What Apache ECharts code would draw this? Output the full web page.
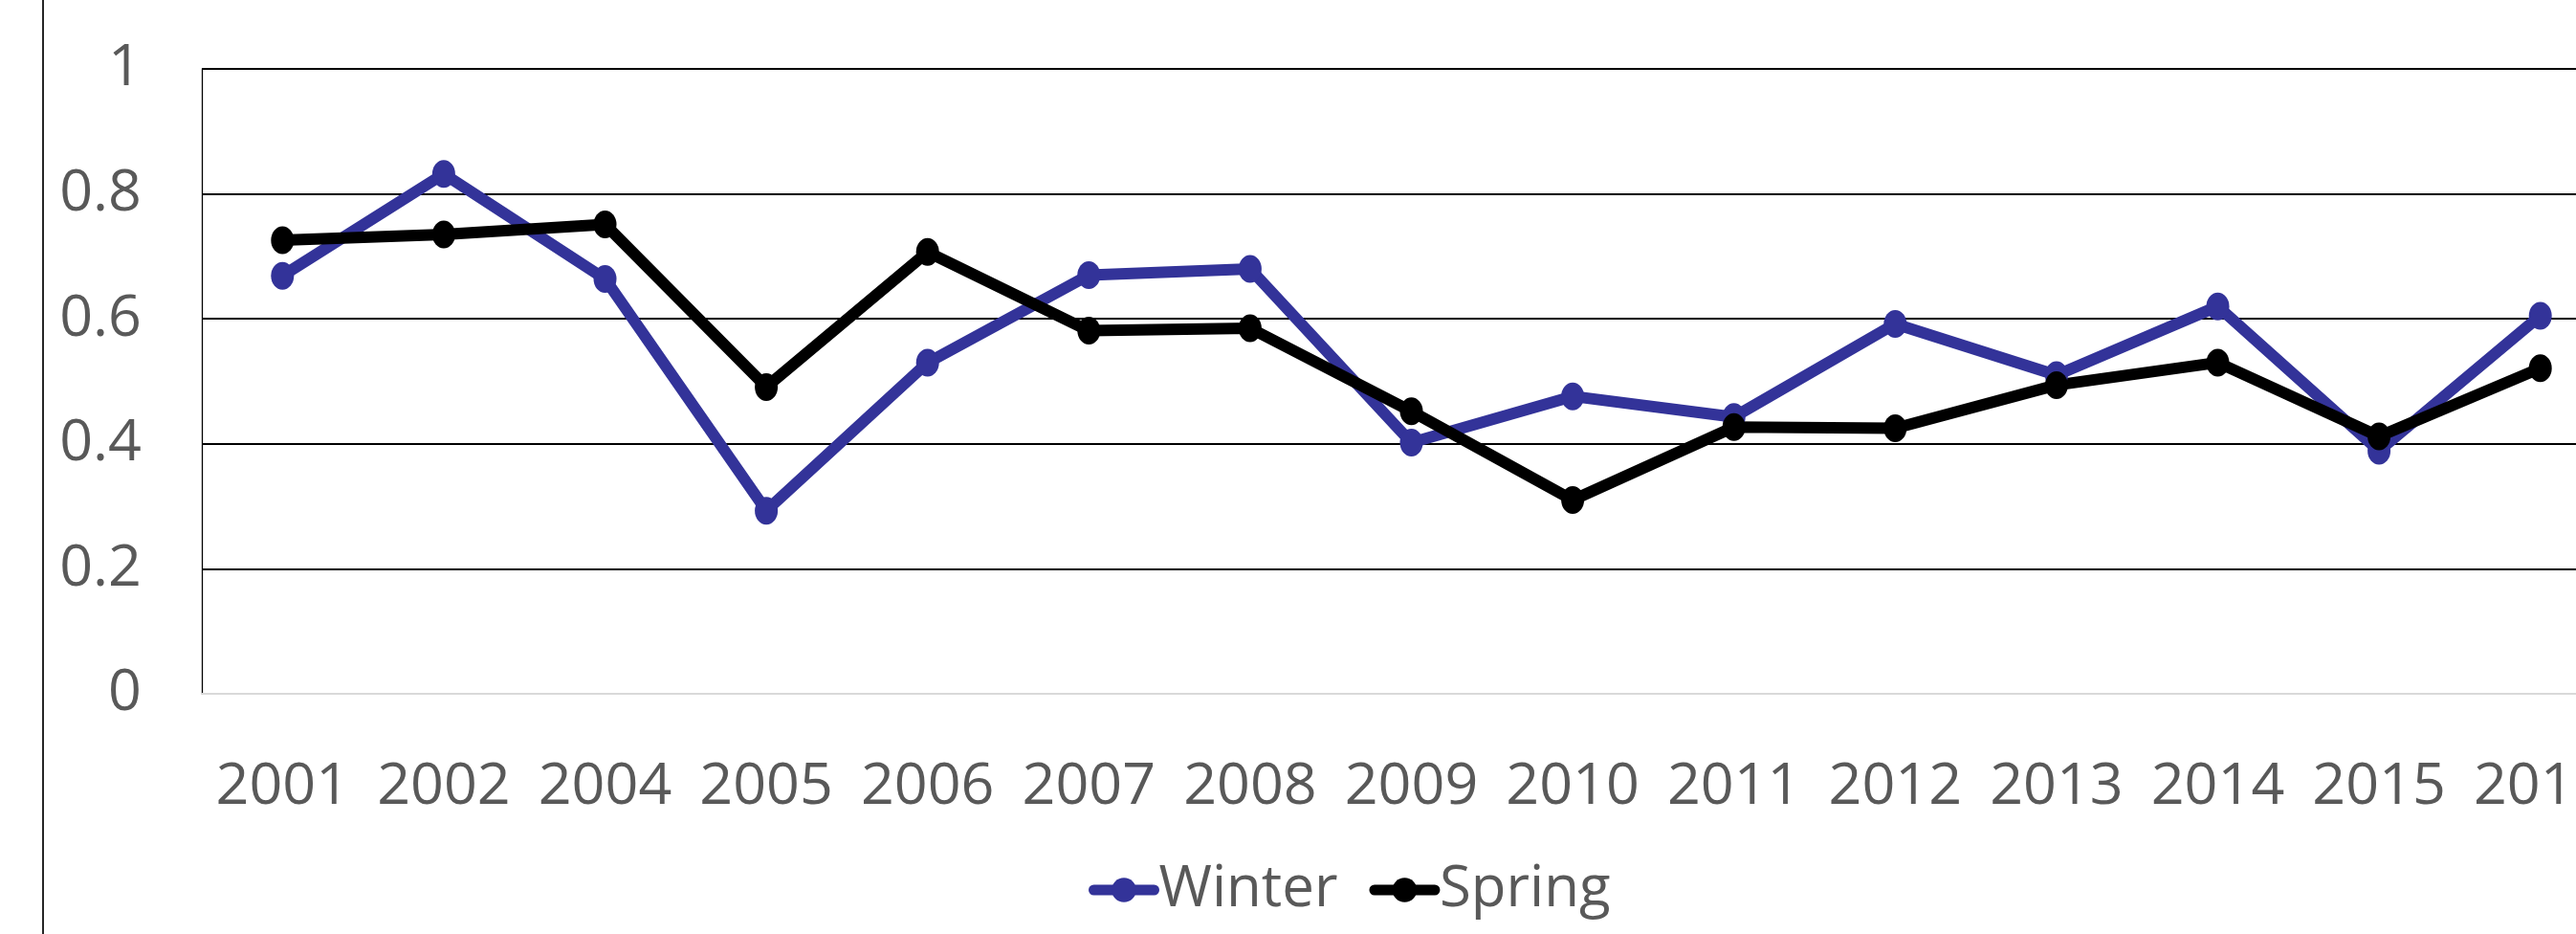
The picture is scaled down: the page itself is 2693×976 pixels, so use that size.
<!DOCTYPE html>
<html>
<head>
<meta charset="utf-8">
<title>Winter / Spring</title>
<script src="https://cdn.jsdelivr.net/npm/echarts@6/dist/echarts.min.js"></script>
<style>
html,body{margin:0;padding:0;background:#fff;}
#chart{width:2693px;height:976px;}
</style>
</head>
<body>
<div id="chart"></div>
<script>
// 数据 - 年份 (no 2003)
var years = ['2001','2002','2004','2005','2006','2007','2008','2009','2010','2011','2012','2013','2014','2015','2016'];
var winter = [0.669, 0.832, 0.664, 0.293, 0.530, 0.670, 0.680, 0.402, 0.476, 0.443, 0.592, 0.510, 0.620, 0.389, 0.605];
var spring = [0.726, 0.735, 0.751, 0.491, 0.707, 0.581, 0.585, 0.452, 0.310, 0.427, 0.425, 0.494, 0.530, 0.412, 0.521];
var yTicks = [0, 0.2, 0.4, 0.6, 0.8, 1];

var fontName = 'Open Sans';
var textGray = '#595959';

var chart = echarts.init(document.getElementById('chart'));

// 折线
function mkLine(name, data, color){
    return {
        name: name,
        type: 'line',
        data: data,
        symbol: 'circle',
        symbolSize: [24, 29],
        itemStyle: {color: color},
        lineStyle: {color: color, width: 12, join: 'round', cap: 'round'},
        emphasis: {disabled: true},
        animation: false
    };
}

chart.setOption({
    backgroundColor: '#ffffff',
    animation: false,
    grid: {
        left: 211, top: 72, width: 2529, height: 653,
        containLabel: false, outerBoundsMode: 'none'
    },
    legend: {
        left: 1133, top: 895,
        itemWidth: 63, itemHeight: 32, itemGap: 33,
        lineStyle: {width: 11, cap: 'round'},
        textStyle: {fontFamily: fontName, fontSize: 60, color: textGray},
        data: ['Winter', 'Spring']
    },
    xAxis: {
        type: 'category',
        data: years,
        boundaryGap: true,
        axisLine: {show: true, lineStyle: {color: '#d9d9d9', width: 2}},
        axisTick: {show: false},
        axisLabel: {interval: 0, margin: 67, fontFamily: fontName, fontSize: 61, color: textGray},
        splitLine: {show: false}
    },
    yAxis: {
        type: 'value',
        min: yTicks[0], max: yTicks[yTicks.length - 1], interval: yTicks[1] - yTicks[0],
        axisLine: {show: true, lineStyle: {color: '#000000', width: 1.3}},
        axisTick: {show: false},
        axisLabel: {margin: 63, fontFamily: fontName, fontSize: 61, color: textGray},
        splitLine: {show: true, lineStyle: {color: '#000000', width: 2}}
    },
    // 图表边框(左侧)
    graphic: [{
        type: 'line',
        shape: {x1: 45, y1: 0, x2: 45, y2: 976},
        style: {stroke: '#000000', lineWidth: 1.7}
    }],
    series: [
        mkLine('Winter', winter, '#333399'),
        mkLine('Spring', spring, '#000000')
    ]
});
</script>
</body>
</html>
